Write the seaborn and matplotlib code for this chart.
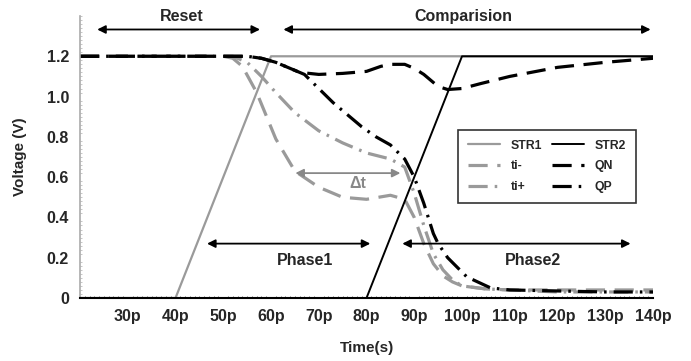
import matplotlib
matplotlib.use('Agg')
import matplotlib.pyplot as plt
from matplotlib.ticker import MultipleLocator
import seaborn as sns

# time in ps, voltage in V
t_str1 = [20, 40, 60, 140]
v_str1 = [0, 0, 1.2, 1.2]

t_str2 = [20, 80, 100, 140]
v_str2 = [0, 0, 1.2, 1.2]

t_tim = [20, 50, 52, 54, 57, 61, 65, 70, 75, 80, 85, 88, 90, 92, 94, 96, 98, 100, 105, 110, 120, 130, 140]
v_tim = [1.2, 1.2, 1.19, 1.15, 1.02, 0.79, 0.63, 0.55, 0.5, 0.49, 0.51, 0.49, 0.4, 0.27, 0.17, 0.11,
         0.08, 0.06, 0.045, 0.04, 0.04, 0.04, 0.04]

t_tip = [20, 52, 55, 58, 61, 65, 70, 75, 80, 85, 88, 90, 92, 94, 96, 98, 100, 105, 110, 120, 130, 140]
v_tip = [1.2, 1.2, 1.17, 1.1, 1.02, 0.92, 0.83, 0.77, 0.72, 0.69, 0.65, 0.52, 0.36, 0.22, 0.14, 0.09,
         0.06, 0.045, 0.04, 0.03, 0.03, 0.03]

t_qn = [20, 55, 58, 61, 63, 66, 70, 75, 80, 83, 85, 88, 90, 92, 95, 97, 100, 104, 110, 120, 130, 140]
v_qn = [1.2, 1.2, 1.19, 1.17, 1.15, 1.12, 1.11, 1.115, 1.125, 1.15, 1.16, 1.16, 1.14, 1.11, 1.05, 1.035,
        1.04, 1.065, 1.1, 1.145, 1.17, 1.19]

t_qp = [20, 55, 58, 61, 64, 67, 70, 73, 76, 79, 82, 85, 88, 90, 92, 94, 95, 97, 101, 106, 110, 120, 130, 140]
v_qp = [1.2, 1.2, 1.19, 1.17, 1.14, 1.11, 1.04, 0.97, 0.91, 0.85, 0.8, 0.76, 0.69, 0.6, 0.47, 0.32, 0.27,
        0.2, 0.105, 0.05, 0.04, 0.035, 0.03, 0.03]

x_ticks = [30, 40, 50, 60, 70, 80, 90, 100, 110, 120, 130, 140]
x_ticklabels = ['30p', '40p', '50p', '60p', '70p', '80p', '90p', '100p', '110p', '120p', '130p', '140p']
y_ticks = [0, 0.2, 0.4, 0.6, 0.8, 1.0, 1.2]
y_ticklabels = ['0', '0.2', '0.4', '0.6', '0.8', '1.0', '1.2']

sns.set_style('white')
plt.rcParams['font.family'] = ['Liberation Sans', 'DejaVu Sans']
plt.rcParams['font.weight'] = 'bold'

gray = '#9a9a9a'
fs = 11.5
fig = plt.figure(figsize=(6.91, 3.61), dpi=100)
ax = fig.add_axes([0.1158, 0.1745, 0.8292, 0.7812])

series = [
    ('STR1', t_str1, v_str1, gray, 1.6, (None, None)),
    ('ti-', t_tim, v_tim, gray, 2.3, (0, (6, 3))),
    ('ti+', t_tip, v_tip, gray, 2.3, (0, (6, 2.2, 0.8, 2.2))),
    ('STR2', t_str2, v_str2, 'black', 1.4, (None, None)),
    ('QN', t_qn, v_qn, 'black', 2.3, (0, (6, 3))),
    ('QP', t_qp, v_qp, 'black', 2.3, (0, (6, 2.2, 0.8, 2.2))),
]
for name, t, v, c, lw, ls in series:
    sns.lineplot(x=t, y=v, color=c, linewidth=lw, ax=ax, label=name)
    if ls != (None, None):
        ax.lines[-1].set_linestyle(ls)

ax.set_xlim(20, 140)
ax.set_ylim(0, 1.4)
ax.set_xticks(x_ticks)
ax.set_xticklabels(x_ticklabels, fontsize=fs, fontweight='bold')
ax.set_yticks(y_ticks)
ax.set_yticklabels(y_ticklabels, fontsize=fs, fontweight='bold')
ax.xaxis.set_minor_locator(MultipleLocator(1))
ax.yaxis.set_minor_locator(MultipleLocator(0.02))
ax.tick_params(axis='both', which='major', direction='inout', length=4, width=1.2, color='black', pad=6)
ax.tick_params(axis='x', which='minor', direction='in', length=1.5, width=0.6, color='#555555', bottom=True)
ax.tick_params(axis='y', which='minor', direction='in', length=1.5, width=0.6, color='#bbbbbb', left=True)
ax.spines['top'].set_visible(False)
ax.spines['right'].set_visible(False)
ax.spines['bottom'].set_color('black')
ax.spines['bottom'].set_linewidth(1.5)
ax.spines['left'].set_color('#aaaaaa')
ax.spines['left'].set_linewidth(1.2)
ax.set_xlabel('Time(s)', fontsize=11, fontweight='bold', labelpad=12)
ax.set_ylabel('Voltage (V)', fontsize=11, fontweight='bold', labelpad=14)

arrow = dict(arrowstyle='<|-|>', color='black', lw=1.3, mutation_scale=12, shrinkA=0, shrinkB=0)
ax.annotate('', xy=(23.6, 1.333), xytext=(57.7, 1.333), arrowprops=arrow, annotation_clip=False)
ax.annotate('', xy=(62.6, 1.333), xytext=(139.5, 1.333), arrowprops=arrow, annotation_clip=False)
ax.text(41.2, 1.395, 'Reset', ha='center', va='center', fontsize=fs, fontweight='bold')
ax.text(100.3, 1.395, 'Comparision', ha='center', va='center', fontsize=fs, fontweight='bold')

ax.annotate('', xy=(46.6, 0.27), xytext=(80.8, 0.27), arrowprops=arrow)
ax.annotate('', xy=(87.5, 0.27), xytext=(135.3, 0.27), arrowprops=arrow)
ax.text(67.2, 0.184, 'Phase1', ha='center', va='center', fontsize=fs, fontweight='bold')
ax.text(114.8, 0.184, 'Phase2', ha='center', va='center', fontsize=fs, fontweight='bold')

garrow = dict(arrow, color='#888888')
ax.annotate('', xy=(65.1, 0.62), xytext=(87.1, 0.62), arrowprops=garrow)
ax.text(78.1, 0.57, '\u0394t', ha='center', va='center', fontsize=fs, color='#888888')

handles, labels = ax.get_legend_handles_labels()
leg = ax.legend(handles, labels, ncol=2, loc='upper left', bbox_to_anchor=(0.66, 0.596),
                borderaxespad=0, frameon=True, fancybox=False, handlelength=2.6,
                columnspacing=0.8, handletextpad=0.9, borderpad=0.8, labelspacing=0.7,
                prop={'size': 8.8, 'weight': 'bold'})
leg.get_frame().set_edgecolor('black')
leg.get_frame().set_linewidth(1.2)

fig.savefig('out.png', dpi=100)
